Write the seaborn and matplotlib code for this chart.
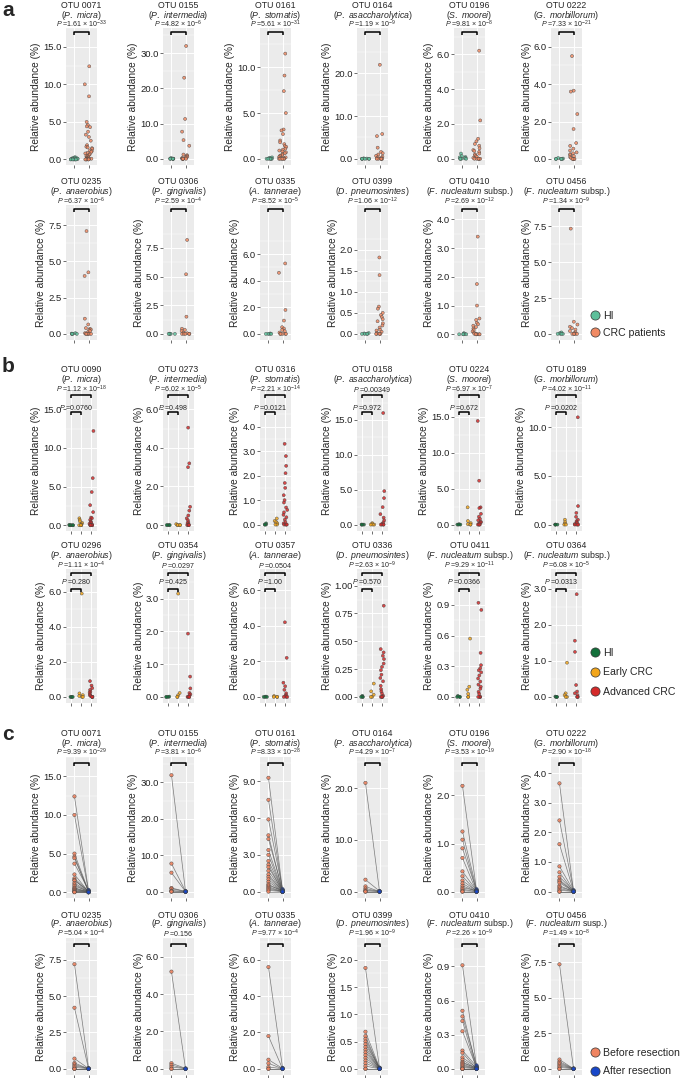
import numpy as np
import pandas as pd
import seaborn as sns
import matplotlib.pyplot as plt
from matplotlib.lines import Line2D

np.random.seed(3)

W, H = 685, 1078

### panel a: HI vs CRC patients
a_otu = ["OTU 0071", "OTU 0155", "OTU 0161", "OTU 0164", "OTU 0196", "OTU 0222",
         "OTU 0235", "OTU 0306", "OTU 0335", "OTU 0399", "OTU 0410", "OTU 0456"]
a_species = ["P. micra", "P. intermedia", "P. stomatis", "P. asaccharolytica", "S. moorei", "G. morbillorum",
             "P. anaerobius", "P. gingivalis", "A. tannerae", "D. pneumosintes", "F. nucleatum", "F. nucleatum"]
a_suffix = ["", "", "", "", "", "", "", "", "", "", " subsp.", " subsp."]
a_p = ["1.61e-33", "4.82e-6", "5.61e-31", "1.19e-9", "9.81e-8", "7.33e-21",
       "6.37e-6", "2.59e-4", "8.52e-5", "1.06e-12", "2.69e-12", "1.34e-9"]
a_hi = [
    [0.3, 0.25, 0.2, 0.15, 0.1, 0.08, 0.05, 0.03, 0.02, 0.01, 0, 0, 0, 0, 0],
    [0.2, 0.1, 0.05, 0, 0, 0, 0, 0, 0],
    [0.15, 0.1, 0.05, 0.02, 0, 0, 0, 0, 0],
    [0.1, 0.05, 0, 0, 0, 0, 0, 0],
    [0.3, 0.15, 0.1, 0.08, 0.05, 0.02, 0, 0, 0, 0],
    [0.05, 0.02, 0, 0, 0, 0, 0],
    [0.05, 0.02, 0, 0, 0, 0],
    [0.02, 0, 0, 0, 0],
    [0.03, 0, 0, 0, 0],
    [0.02, 0.01, 0, 0, 0, 0],
    [0.04, 0.02, 0, 0, 0, 0],
    [0.1, 0.05, 0, 0, 0, 0],
]
a_crc = [
    [12.4, 10.0, 8.4, 5.0, 4.6, 4.4, 4.3, 3.7, 3.3, 3.0, 2.5, 1.9, 1.7, 1.6, 1.5, 1.4, 1.2, 1.1, 1.0,
     0.9, 0.8, 0.7, 0.6, 0.5, 0.45, 0.4, 0.3, 0.25, 0.2, 0.15, 0.1, 0.08, 0.05, 0.03, 0, 0, 0, 0, 0],
    [32.0, 23.0, 11.3, 7.7, 5.3, 3.7, 1.2, 1.0, 0.8, 0.6, 0.4, 0.3, 0.2, 0.1, 0, 0, 0, 0, 0, 0],
    [11.5, 9.1, 7.4, 5.0, 3.2, 3.1, 2.7, 2.0, 1.8, 1.6, 1.4, 1.3, 1.1, 1.0, 0.9, 0.8, 0.7, 0.6, 0.5,
     0.4, 0.35, 0.3, 0.2, 0.15, 0.1, 0.05, 0, 0, 0, 0, 0, 0],
    [22.0, 5.8, 5.3, 2.6, 1.6, 1.3, 1.0, 0.7, 0.5, 0.3, 0.2, 0.1, 0, 0, 0, 0, 0, 0],
    [6.2, 2.2, 1.15, 1.0, 0.85, 0.75, 0.6, 0.5, 0.45, 0.4, 0.3, 0.25, 0.2, 0.15, 0.1, 0.05, 0, 0, 0, 0, 0, 0],
    [5.5, 3.65, 3.6, 2.4, 1.6, 0.85, 0.7, 0.55, 0.45, 0.35, 0.3, 0.25, 0.2, 0.15, 0.1, 0.05, 0, 0, 0, 0, 0],
    [7.1, 4.25, 4.0, 1.05, 0.65, 0.4, 0.35, 0.3, 0.25, 0.2, 0.1, 0.05, 0, 0, 0, 0, 0, 0],
    [8.2, 5.2, 1.5, 0.45, 0.35, 0.25, 0.1, 0.05, 0, 0, 0, 0, 0],
    [5.3, 4.6, 1.8, 1.0, 0.5, 0.4, 0.3, 0.2, 0.1, 0, 0, 0, 0, 0],
    [1.82, 1.4, 0.65, 0.6, 0.5, 0.45, 0.4, 0.35, 0.3, 0.25, 0.2, 0.15, 0.1, 0.08, 0.05, 0.02, 0, 0, 0, 0, 0],
    [3.4, 1.75, 1.0, 0.55, 0.5, 0.4, 0.35, 0.3, 0.25, 0.2, 0.15, 0.1, 0.05, 0.02, 0, 0, 0, 0, 0, 0],
    [7.35, 0.85, 0.65, 0.5, 0.4, 0.3, 0.2, 0.1, 0.05, 0, 0, 0, 0, 0],
]
a_ticks = [[0, 5, 10, 15], [0, 10, 20, 30], [0, 5, 10], [0, 10, 20], [0, 2, 4, 6], [0, 2, 4, 6],
           [0, 2.5, 5, 7.5], [0, 2.5, 5, 7.5], [0, 2, 4, 6], [0, 0.5, 1, 1.5, 2], [0, 1, 2, 3, 4], [0, 2.5, 5, 7.5]]
a_ytop = [15.5, 37.1, 14.3, 30.6, 7.5, 6.8, 8.9, 11.25, 9.7, 3.07, 4.16, 9.0]

### panel b: HI vs early vs advanced CRC
b_otu = ["OTU 0090", "OTU 0273", "OTU 0316", "OTU 0158", "OTU 0224", "OTU 0189",
         "OTU 0296", "OTU 0354", "OTU 0357", "OTU 0336", "OTU 0411", "OTU 0364"]
b_species = a_species
b_suffix = a_suffix
b_p_adv = ["1.12e-18", "6.02e-5", "2.21e-14", "0.00349", "6.97e-7", "4.02e-11",
           "1.11e-4", "0.0297", "0.0504", "2.63e-9", "9.29e-11", "6.08e-5"]
b_p_early = ["0.0760", "0.498", "0.0121", "0.972", "0.672", "0.0202",
             "0.280", "0.425", "1.00", "0.570", "0.0366", "0.0313"]
b_hi = [
    [0.05, 0, 0, 0, 0, 0], [0, 0, 0, 0], [0.05, 0, 0, 0], [0, 0, 0, 0], [0.05, 0, 0, 0], [0, 0, 0, 0],
    [0, 0, 0, 0], [0.01, 0, 0, 0], [0.02, 0, 0, 0], [0.01, 0, 0, 0], [0.01, 0, 0, 0], [0.01, 0, 0, 0],
]
b_early = [
    [0.9, 0.7, 0.5, 0.3, 0.15, 0.05, 0, 0, 0],
    [0.05, 0, 0, 0, 0],
    [0.25, 0.15, 0.1, 0.05, 0, 0],
    [0.2, 0.05, 0, 0, 0],
    [2.4, 0.5, 0.2, 0.05, 0, 0],
    [0.5, 0.25, 0.1, 0, 0],
    [5.9, 0.2, 0.1, 0.05, 0, 0],
    [3.15, 0.12, 0.05, 0, 0],
    [0.05, 0, 0, 0],
    [0.12, 0.05, 0.02, 0, 0],
    [0.57, 0.1, 0.07, 0.03, 0, 0],
    [0.95, 0.1, 0.05, 0, 0],
]
b_adv = [
    [12.2, 6.1, 4.3, 2.6, 1.7, 1.0, 0.9, 0.7, 0.5, 0.4, 0.3, 0.2, 0.1, 0.05, 0, 0, 0, 0, 0],
    [5.05, 3.2, 3.0, 0.95, 0.75, 0.5, 0.35, 0.25, 0.15, 0.1, 0.05, 0, 0, 0, 0],
    [3.3, 2.8, 2.4, 2.1, 1.7, 1.5, 1.2, 1.0, 0.9, 0.7, 0.6, 0.5, 0.4, 0.3, 0.2, 0.1, 0.05, 0, 0, 0, 0],
    [16.0, 4.8, 3.8, 2.5, 1.5, 1.0, 0.6, 0.3, 0.1, 0, 0, 0, 0],
    [14.4, 6.1, 2.4, 2.3, 1.5, 1.1, 0.8, 0.6, 0.4, 0.3, 0.2, 0.1, 0, 0, 0, 0],
    [11.0, 1.9, 1.2, 0.8, 0.5, 0.35, 0.25, 0.15, 0.05, 0, 0, 0, 0],
    [0.9, 0.65, 0.5, 0.4, 0.3, 0.25, 0.15, 0.1, 0.05, 0, 0, 0, 0],
    [1.93, 0.62, 0.26, 0.12, 0.08, 0.05, 0, 0, 0, 0],
    [4.2, 2.2, 0.8, 0.6, 0.4, 0.2, 0.1, 0.05, 0, 0, 0],
    [0.82, 0.43, 0.4, 0.37, 0.34, 0.3, 0.27, 0.24, 0.2, 0.17, 0.14, 0.1, 0.07, 0.05, 0.03, 0.01, 0, 0, 0, 0],
    [0.92, 0.85, 0.43, 0.31, 0.28, 0.26, 0.24, 0.21, 0.18, 0.15, 0.12, 0.1, 0.08, 0.05, 0.03, 0, 0, 0, 0],
    [2.85, 1.56, 1.25, 0.33, 0.15, 0.1, 0.05, 0, 0, 0],
]
b_ticks = [[0, 5, 10, 15], [0, 2, 4, 6], [0, 1, 2, 3, 4], [0, 5, 10, 15], [0, 5, 10, 15], [0, 5, 10],
           [0, 2, 4, 6], [0, 1, 2, 3], [0, 2, 4, 6], [0, 0.25, 0.5, 0.75, 1.0], [0, 0.3, 0.6, 0.9], [0, 1, 2, 3]]
b_decimals = [1, 1, 1, 1, 1, 1, 1, 1, 1, 2, 1, 1]
b_ytop = [15.6, 6.43, 5.5, 19.3, 18.7, 13.8, 7.3, 3.9, 7.2, 1.15, 1.25, 3.55]

### panel c: before vs after resection (paired)
c_otu = a_otu
c_species = a_species
c_suffix = ["", "", "", "", "", "", "", "", "", "", " subsp.", " susp."]
c_p = ["9.39e-29", "3.81e-6", "8.33e-28", "4.29e-7", "3.53e-19", "2.90e-18",
       "5.04e-4", "0.156", "9.77e-4", "1.96e-9", "2.26e-9", "1.49e-8"]
c_before = [
    [12.4, 10.0, 5.0, 4.6, 4.4, 3.7, 2.3, 1.8, 1.6, 1.5, 1.2, 1.0, 0.8, 0.6, 0.5, 0.4, 0.3, 0.2, 0.1, 0.05, 0, 0],
    [32.0, 7.7, 5.2, 1.0, 0.8, 0.3, 0.1, 0, 0],
    [9.3, 7.5, 5.9, 4.6, 4.3, 3.4, 3.0, 2.5, 2.2, 2.0, 1.7, 1.4, 1.2, 1.0, 0.8, 0.6, 0.5, 0.4, 0.3, 0.2, 0.1, 0],
    [21.0, 2.3, 1.0, 0.6, 0.3, 0.1, 0, 0],
    [2.2, 1.25, 1.08, 0.9, 0.7, 0.42, 0.32, 0.23, 0.17, 0.12, 0.08, 0.05, 0.02, 0, 0],
    [3.65, 2.4, 1.6, 0.85, 0.65, 0.5, 0.4, 0.35, 0.3, 0.2, 0.15, 0.1, 0.05, 0, 0],
    [7.2, 4.2, 0.7, 0.4, 0.3, 0.2, 0.1, 0, 0, 0],
    [5.2, 0.3, 0.2, 0.1, 0, 0],
    [5.6, 1.8, 0.5, 0.3, 0.1, 0, 0],
    [1.85, 0.68, 0.6, 0.55, 0.5, 0.45, 0.4, 0.35, 0.3, 0.25, 0.2, 0.15, 0.1, 0.05, 0, 0],
    [0.91, 0.51, 0.46, 0.42, 0.33, 0.16, 0.14, 0.1, 0.08, 0.06, 0.05, 0.04, 0.03, 0.02, 0.01, 0, 0, 0, 0],
    [7.35, 0.65, 0.5, 0.4, 0.3, 0.2, 0.1, 0, 0],
]
c_after = [
    [0.2, 0.1, 0.15, 0.05, 0.1, 0.3, 0.05, 0.1, 0, 0.2, 0.05, 0, 0.1, 0, 0.05, 0, 0.1, 0, 0.05, 0, 0, 0],
    [0, 0.1, 0, 0.05, 0, 0, 0, 0, 0],
    [0.1, 0.05, 0.2, 0, 0.1, 0.05, 0, 0.1, 0, 0.05, 0, 0, 0.05, 0, 0, 0, 0.1, 0, 0, 0, 0, 0],
    [0, 0.1, 0, 0, 0, 0.05, 0, 0],
    [0.02, 0.05, 0.01, 0.03, 0, 0.02, 0, 0.01, 0, 0, 0.02, 0, 0, 0, 0],
    [0.02, 0.05, 0.01, 0.03, 0, 0.02, 0, 0.01, 0, 0, 0.02, 0, 0, 0, 0],
    [0.05, 0, 0.02, 0, 0, 0.01, 0, 0, 0, 0],
    [0, 0.02, 0, 0, 0, 0],
    [0.05, 0, 0.02, 0, 0, 0, 0],
    [0.01, 0.02, 0, 0.01, 0, 0.02, 0, 0, 0.01, 0, 0, 0, 0, 0, 0, 0],
    [0.02, 0.01, 0.03, 0, 0.01, 0.02, 0, 0.01, 0, 0, 0.01, 0, 0, 0, 0, 0, 0, 0, 0],
    [0.02, 0, 0.01, 0, 0, 0, 0, 0, 0],
]
c_ticks = [[0, 5, 10, 15], [0, 10, 20, 30], [0, 3, 6, 9], [0, 10, 20], [0, 1, 2], [0, 1, 2, 3, 4],
           [0, 2.5, 5, 7.5], [0, 2, 4, 6], [0, 2, 4, 6], [0, 0.5, 1, 1.5, 2], [0, 0.3, 0.6, 0.9], [0, 2.5, 5, 7.5]]
c_ytop = [15.7, 37.0, 11.0, 26.0, 2.8, 4.54, 9.0, 7.0, 7.2, 2.4, 1.15, 9.2]

### colours
a_colors = ["#5dbf9a", "#f08a63"]
b_colors = ["#13703a", "#f2a51a", "#d42a2a"]
c_colors = ["#ef8461", "#1847c9"]

### layout: pixel rows and text offsets (px above panel top; negative = inside)
col_right = [97, 194, 291, 388, 485, 582]
col_w = 31
rows = {"a": [(28, 165), (205, 340)], "b": [(390, 531), (569, 703)], "c": [(757, 898), (938, 1075)]}
# otu, species, p1 text, bracket1, p2 text, bracket2
offs = {"a": [(23, 13, 4, -4)] * 2,
        "b": [(20, 10, 1, -5, -17, -22), (24, 13, 4, -4, -13, -20)],
        "c": [(23, 14, 5, -6)] * 2}

sns.set_style("darkgrid", {"axes.facecolor": "#EBEBEB", "grid.color": "white"})
plt.rcParams["font.family"] = ["Liberation Sans", "DejaVu Sans"]
plt.rcParams["mathtext.fontset"] = "custom"
plt.rcParams["mathtext.rm"] = "Liberation Sans"
plt.rcParams["mathtext.it"] = "Liberation Sans:italic"
plt.rcParams["mathtext.bf"] = "Liberation Sans:bold"

fig = plt.figure(figsize=(W / 100, H / 100), dpi=100)


def ptxt(p):
    if "e" in p:
        m, e = p.split("e")
        return r"$P$ =" + m + " × 10$^{" + str(int(e)) + "}$"
    return r"$P$ =" + p


def sptxt(sp, suffix):
    return "($\\mathit{" + sp.replace(" ", "\\ ") + "}$" + suffix + ")"


def make_axes(i, panel):
    top, bot = rows[panel][i // 6]
    r = col_right[i % 6]
    ax = fig.add_axes([(r - col_w) / W, 1 - bot / H, col_w / W, (bot - top) / H])
    return ax, bot - top, offs[panel][i // 6]


def style(ax, ticks, ytop, ngroups, dec=1, xlim=None):
    ax.set_ylim(-0.0476 * ytop, ytop)
    ax.set_xlim(*(xlim or (-0.6, ngroups - 0.4)))
    ax.set_yticks(ticks)
    ax.set_yticklabels([f"{t:.{dec}f}" for t in ticks])
    step = ticks[1] - ticks[0]
    ax.set_yticks([t + step / 2 for t in ticks], minor=True)
    ax.set_xticks(range(ngroups))
    ax.set_xticklabels([""] * ngroups)
    ax.grid(True, which="major", color="white", lw=0.7)
    ax.grid(True, which="minor", axis="y", color="white", lw=0.35)
    ax.tick_params(axis="both", which="major", length=2, width=0.5, color="#333333",
                   bottom=True, left=True, labelsize=6.8, pad=1, labelcolor="#222222")
    ax.tick_params(axis="y", which="minor", length=0)
    ax.set_xlabel("")
    ax.set_ylabel("Relative abundance (%)", fontsize=7.3, labelpad=1.5)
    for s in ax.spines.values():
        s.set_visible(False)


def titles(ax, otu, sp, dy_otu, dy_sp):
    ax.annotate(otu, xy=(0.5, 1), xycoords="axes fraction", xytext=(0, dy_otu * 0.72),
                textcoords="offset points", ha="center", va="center", fontsize=6.3)
    ax.annotate(sp, xy=(0.5, 1), xycoords="axes fraction", xytext=(0, dy_sp * 0.72),
                textcoords="offset points", ha="center", va="center", fontsize=6.3)


def bracket(ax, hpx, x0, x1, text, text_up, br_up, tip=3):
    tr = ax.get_xaxis_transform()
    yb = 1 + br_up / hpx
    yt = 1 + (br_up - tip) / hpx
    ax.plot([x0, x0, x1, x1], [yt, yb, yb, yt], transform=tr, color="black", lw=1.1,
            clip_on=False, solid_capstyle="butt")
    ax.text((x0 + x1) / 2, 1 + text_up / hpx, text, transform=tr, ha="center", va="center",
            fontsize=5.1)


def strip(ax, groups, values, colors, jitter):
    df = pd.DataFrame({"group": [g for g, v in zip(groups, values) for _ in v],
                       "abundance": [x for v in values for x in v]})
    sns.stripplot(data=df, x="group", y="abundance", hue="group", order=groups, hue_order=groups,
                  palette=colors, jitter=jitter, size=2.2, linewidth=0.35, edgecolor="#444444",
                  alpha=0.85, legend=False, ax=ax, zorder=3)


### panel a
for i in range(12):
    ax, hpx, o = make_axes(i, "a")
    strip(ax, ["HI", "CRC patients"], [a_hi[i], a_crc[i]], a_colors, 0.28)
    style(ax, a_ticks[i], a_ytop[i], 2)
    titles(ax, a_otu[i], sptxt(a_species[i], a_suffix[i]), o[0], o[1])
    bracket(ax, hpx, 0, 1, ptxt(a_p[i]), o[2], o[3])

### panel b
for i in range(12):
    ax, hpx, o = make_axes(i, "b")
    strip(ax, ["HI", "Early CRC", "Advanced CRC"], [b_hi[i], b_early[i], b_adv[i]], b_colors, 0.2)
    style(ax, b_ticks[i], b_ytop[i], 3, dec=b_decimals[i], xlim=(-0.5, 2.55))
    titles(ax, b_otu[i], sptxt(b_species[i], b_suffix[i]), o[0], o[1])
    bracket(ax, hpx, 0, 2, ptxt(b_p_adv[i]), o[2], o[3])
    bracket(ax, hpx, 0, 1, ptxt(b_p_early[i]), o[4], o[5])

### panel c
for i in range(12):
    ax, hpx, o = make_axes(i, "c")
    n = len(c_before[i])
    df = pd.DataFrame({"pair": list(range(n)) * 2,
                       "time": [0] * n + [1] * n,
                       "abundance": c_before[i] + c_after[i],
                       "stage": ["Before resection"] * n + ["After resection"] * n})
    sns.lineplot(data=df, x="time", y="abundance", units="pair", estimator=None, color="#555555",
                 lw=0.5, alpha=0.75, ax=ax, legend=False)
    sns.scatterplot(data=df, x="time", y="abundance", hue="stage", palette=c_colors,
                    s=6, edgecolor="#444444", linewidth=0.35, alpha=0.9, ax=ax, legend=False, zorder=3)
    style(ax, c_ticks[i], c_ytop[i], 2)
    titles(ax, c_otu[i], sptxt(c_species[i], c_suffix[i]), o[0], o[1])
    bracket(ax, hpx, 0, 1, ptxt(c_p[i]), o[2], o[3])


### legends and panel letters
def legend(labels, colors, x, y, spacing):
    handles = [Line2D([], [], marker="o", ls="", markersize=6.6, markerfacecolor=c,
                      markeredgecolor="#333333", markeredgewidth=0.5) for c in colors]
    fig.legend(handles, labels, loc="upper left", bbox_to_anchor=(x / W, 1 - y / H), frameon=False,
               fontsize=7.6, handletextpad=0.25, labelspacing=spacing, handlelength=1.0,
               borderpad=0, borderaxespad=0)


legend(["HI", "CRC patients"], a_colors, 590, 311, 0.65)
legend(["HI", "Early CRC", "Advanced CRC"], b_colors, 590, 648, 0.88)
legend(["Before resection", "After resection"], c_colors, 590, 1048, 0.8)

for letter, y in [("a", 11), ("b", 366), ("c", 735)]:
    fig.text(2 / W, 1 - y / H, letter, fontsize=15, fontweight="bold", va="center", ha="left")

fig.savefig("out.png", dpi=100)
